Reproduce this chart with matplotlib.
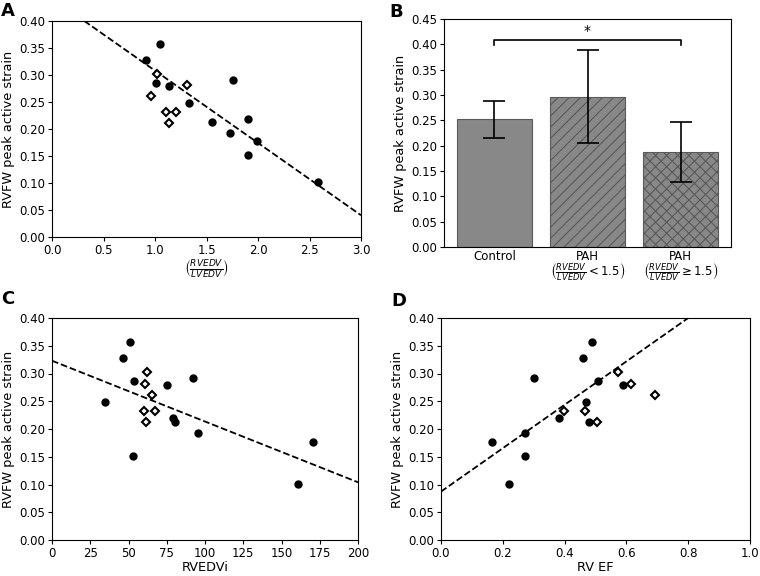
import numpy as np
import matplotlib
matplotlib.use("Agg")
import matplotlib.pyplot as plt

# ---------------- data ----------------
# PAH patients (filled circles)
pah_strain = [0.328, 0.357, 0.286, 0.279, 0.248, 0.291, 0.213, 0.192, 0.219, 0.177, 0.151, 0.101]
pah_ratio = [0.913, 1.049, 1.010, 1.133, 1.333, 1.760, 1.557, 1.725, 1.900, 1.987, 1.900, 2.582]
pah_rvedvi = [46.5, 50.9, 53.7, 75.3, 34.9, 92.1, 80.6, 95.4, 78.8, 170.5, 52.8, 160.5]
pah_rvef = [0.460, 0.490, 0.509, 0.588, 0.469, 0.302, 0.479, 0.272, 0.381, 0.164, 0.272, 0.221]

# Controls (open diamonds)
ctrl_strain = [0.302, 0.261, 0.281, 0.232, 0.232, 0.212]
ctrl_ratio = [1.023, 0.961, 1.311, 1.107, 1.200, 1.133]
ctrl_rvedvi = [62.0, 65.5, 60.7, 60.3, 67.5, 61.6]
ctrl_rvef = [0.574, 0.694, 0.615, 0.397, 0.465, 0.506]

# regression lines (slope, intercept)
fit_ratio = (-0.1339, 0.442)
fit_rvedvi = (-0.001095, 0.323)
fit_rvef = (0.391, 0.0872)

# bar chart
groups = ["Control",
          "PAH\n" + r"$\left(\frac{RVEDV}{LVEDV} < 1.5\right)$",
          "PAH\n" + r"$\left(\frac{RVEDV}{LVEDV} \geq 1.5\right)$"]
group_means = [0.252, 0.297, 0.188]
group_err = [0.036, 0.092, 0.059]
group_hatch = ["", "///", "xxx"]

# ---------------- figure ----------------
plt.rcParams['font.family'] = ['DejaVu Sans']
plt.rcParams['hatch.linewidth'] = 0.8
TICK = 8.5
LAB = 9.3

fig = plt.figure(figsize=(7.6, 5.76), dpi=100)


def scatter_panel(ax, xp, xc, fit, xlim, xticks):
    xs = np.array(xlim, dtype=float)
    ax.plot(xs, fit[0] * xs + fit[1], 'k--', lw=1.3, zorder=1)
    ax.plot(xp, pah_strain, 'o', color='black', ms=5, zorder=3)
    ax.plot(xc, ctrl_strain, 'D', mfc='white', mec='black', mew=1.5, ms=4.2, zorder=3)
    ax.set_xlim(*xlim)
    ax.set_ylim(0, 0.40)
    ax.set_xticks(xticks)
    ax.set_yticks(np.arange(0, 0.401, 0.05))
    ax.yaxis.set_major_formatter(matplotlib.ticker.FormatStrFormatter('%.2f'))
    ax.tick_params(labelsize=TICK, length=3, pad=2)
    ax.set_ylabel("RVFW peak active strain", fontsize=LAB, labelpad=3)


axA = fig.add_axes([52 / 760, 1 - 237 / 576, 309 / 760, 216 / 576])
scatter_panel(axA, pah_ratio, ctrl_ratio, fit_ratio, (0, 3.0), np.arange(0, 3.01, 0.5))
axA.set_xlabel(r"$\left(\frac{RVEDV}{LVEDV}\right)$", fontsize=LAB, labelpad=1)
axA.xaxis.set_major_formatter(matplotlib.ticker.FormatStrFormatter('%.1f'))

axC = fig.add_axes([52 / 760, 1 - 540 / 576, 306 / 760, 222 / 576])
scatter_panel(axC, pah_rvedvi, ctrl_rvedvi, fit_rvedvi, (0, 200), np.arange(0, 201, 25))
axC.set_xlabel("RVEDVi", fontsize=LAB, labelpad=1)

axD = fig.add_axes([441 / 760, 1 - 540 / 576, 309 / 760, 222 / 576])
scatter_panel(axD, pah_rvef, ctrl_rvef, fit_rvef, (0, 1.0), np.arange(0, 1.01, 0.2))
axD.set_xlabel("RV EF", fontsize=LAB, labelpad=1)
axD.xaxis.set_major_formatter(matplotlib.ticker.FormatStrFormatter('%.1f'))

axB = fig.add_axes([444 / 760, 1 - 247 / 576, 287 / 760, 228 / 576])
xpos = np.arange(len(groups))
for i in range(len(groups)):
    axB.bar(xpos[i], group_means[i], width=0.8, color='#888888', edgecolor='#5a5a5a',
            linewidth=0.8, hatch=group_hatch[i], zorder=2)
axB.errorbar(xpos, group_means, yerr=group_err, fmt='none', ecolor='black',
             elinewidth=1.2, capsize=8, capthick=1.2, zorder=3)
axB.set_ylim(0, 0.45)
axB.set_yticks(np.arange(0, 0.451, 0.05))
axB.yaxis.set_major_formatter(matplotlib.ticker.FormatStrFormatter('%.2f'))
axB.set_xticks(xpos)
axB.set_xticklabels(groups, fontsize=TICK, linespacing=0.9)
axB.tick_params(labelsize=TICK, length=3, pad=2)
axB.tick_params(axis='x', length=0)
axB.set_ylabel("RVFW peak active strain", fontsize=LAB, labelpad=3)
# significance bracket
yb, yt = 0.398, 0.4078
axB.plot([xpos[0], xpos[0], xpos[2], xpos[2]], [yb, yt, yt, yb], color='black', lw=1.2)
axB.text((xpos[0] + xpos[2]) / 2, yt + 0.004, "*", ha='center', va='bottom', fontsize=10)

for lab, x, y in [("A", 1, 2), ("B", 389, 3), ("C", 1, 290), ("D", 391, 292)]:
    fig.text(x / 760, 1 - y / 576, lab, fontsize=13, fontweight='bold', ha='left', va='top')

fig.savefig("out.png", dpi=100)
